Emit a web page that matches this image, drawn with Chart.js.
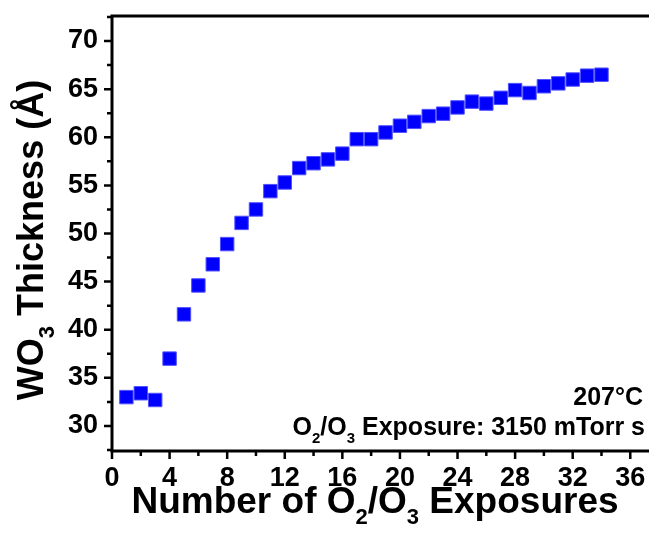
<!DOCTYPE html>
<html>
<head>
<meta charset="utf-8">
<script src="https://cdn.jsdelivr.net/npm/chart.js@4.4.1/dist/chart.umd.min.js"></script>
<style>
  html, body { margin: 0; padding: 0; background: #fff; }
  #chart { display: block; }
</style>
</head>
<body>
<canvas id="chart" width="649" height="536"></canvas>
<script>
const exposures = [1, 2, 3, 4, 5, 6, 7, 8, 9, 10, 11, 12, 13, 14, 15, 16, 17,
  18, 19, 20, 21, 22, 23, 24, 25, 26, 27, 28, 29, 30, 31, 32, 33, 34];
const thickness = [33.0, 33.4, 32.7, 37.0, 41.6, 44.6, 46.8, 48.9, 51.1, 52.5,
  54.4, 55.3, 56.8, 57.3, 57.7, 58.3, 59.8, 59.8, 60.5, 61.2, 61.6, 62.2,
  62.45, 63.1, 63.7, 63.5, 64.1, 64.9, 64.6, 65.3, 65.6, 66.0, 66.4, 66.5];
const xTicks = [0, 4, 8, 12, 16, 20, 24, 28, 32, 36];
const yTicks = [30, 35, 40, 45, 50, 55, 60, 65, 70];

const FONT = "'Liberation Sans', Arial, sans-serif";

// draws text with subscript pieces, e.g. [["O"], ["2", true]]
function richWidth(ctx, parts, size) {
  let w = 0;
  parts.forEach(([t, sub]) => {
    ctx.font = `bold ${sub ? Math.round(size * 0.6) : size}px ${FONT}`;
    w += ctx.measureText(t).width;
  });
  return w;
}

function drawRich(ctx, parts, x, y, size, align) {
  const w = richWidth(ctx, parts, size);
  let cx = align === 'right' ? x - w : align === 'center' ? x - w / 2 : x;
  ctx.textAlign = 'left';
  ctx.textBaseline = 'alphabetic';
  parts.forEach(([t, sub]) => {
    ctx.font = `bold ${sub ? Math.round(size * 0.6) : size}px ${FONT}`;
    ctx.fillText(t, cx, sub ? y + size * 0.3 : y);
    cx += ctx.measureText(t).width;
  });
}

const framePlugin = {
  id: 'frame',
  afterDraw(chart) {
    const { ctx, chartArea: a, scales: { x, y } } = chart;
    ctx.save();
    ctx.strokeStyle = '#000';
    ctx.fillStyle = '#000';
    ctx.lineWidth = 3;

    // axes + top border
    ctx.beginPath();
    ctx.moveTo(a.left - 1.5, a.top);
    ctx.lineTo(chart.width, a.top);
    ctx.moveTo(a.left, a.top);
    ctx.lineTo(a.left, a.bottom);
    ctx.moveTo(a.left - 1.5, a.bottom);
    ctx.lineTo(chart.width, a.bottom);
    ctx.stroke();

    // tick marks, major and minor, pointing outward
    ctx.lineWidth = 2.5;
    ctx.beginPath();
    for (let v = 0; v <= x.max; v += 2) {
      const px = x.getPixelForValue(v);
      const len = v % 4 === 0 ? 8 : 5;
      ctx.moveTo(px, a.bottom);
      ctx.lineTo(px, a.bottom + len);
    }
    for (let v = 27.5; v <= y.max; v += 2.5) {
      const py = y.getPixelForValue(v);
      const len = v % 5 === 0 ? 8 : 5;
      ctx.moveTo(a.left, py);
      ctx.lineTo(a.left - len, py);
    }
    ctx.stroke();

    // axis titles
    drawRich(ctx, [['Number of O'], ['2', true], ['/O'], ['3', true], [' Exposures']],
      375, 513, 37, 'center');

    ctx.save();
    ctx.translate(43, 240);
    ctx.rotate(-Math.PI / 2);
    drawRich(ctx, [['WO'], ['3', true], [' Thickness (Å)']], 0, 0, 36, 'center');
    ctx.restore();

    // annotation
    drawRich(ctx, [['207°C']], 643, 405, 25, 'right');
    drawRich(ctx, [['O'], ['2', true], ['/O'], ['3', true], [' Exposure: 3150 mTorr s']],
      645, 435, 25, 'right');

    ctx.restore();
  }
};

new Chart(document.getElementById('chart'), {
  type: 'scatter',
  data: {
    datasets: [{
      data: exposures.map((e, i) => ({ x: e, y: thickness[i] })),
      pointStyle: 'rect',
      pointRadius: 9.5,
      backgroundColor: '#0000ff',
      borderColor: '#5050ff',
      borderWidth: 1
    }]
  },
  options: {
    responsive: false,
    animation: false,
    layout: { autoPadding: false, padding: { top: 16, left: 0, right: 0, bottom: 0 } },
    plugins: { legend: { display: false }, tooltip: { enabled: false } },
    scales: {
      x: {
        type: 'linear',
        min: 0,
        max: 37.3,
        afterBuildTicks: s => { s.ticks = xTicks.map(v => ({ value: v })); },
        afterFit: s => { s.height = 85; s.paddingLeft = 0; s.paddingRight = 0; },
        grid: { display: false, drawTicks: false },
        border: { display: false },
        ticks: { color: '#000', padding: 11, maxRotation: 0, autoSkip: false,
          font: { family: FONT, size: 27, weight: 'bold' } }
      },
      y: {
        min: 27.4,
        max: 72.6,
        afterBuildTicks: s => { s.ticks = yTicks.map(v => ({ value: v })); },
        afterFit: s => { s.width = 112; s.paddingTop = 0; s.paddingBottom = 0; },
        grid: { display: false, drawTicks: false },
        border: { display: false },
        ticks: { color: '#000', padding: 14, autoSkip: false,
          font: { family: FONT, size: 27, weight: 'bold' } }
      }
    }
  },
  plugins: [framePlugin]
});
</script>
</body>
</html>
